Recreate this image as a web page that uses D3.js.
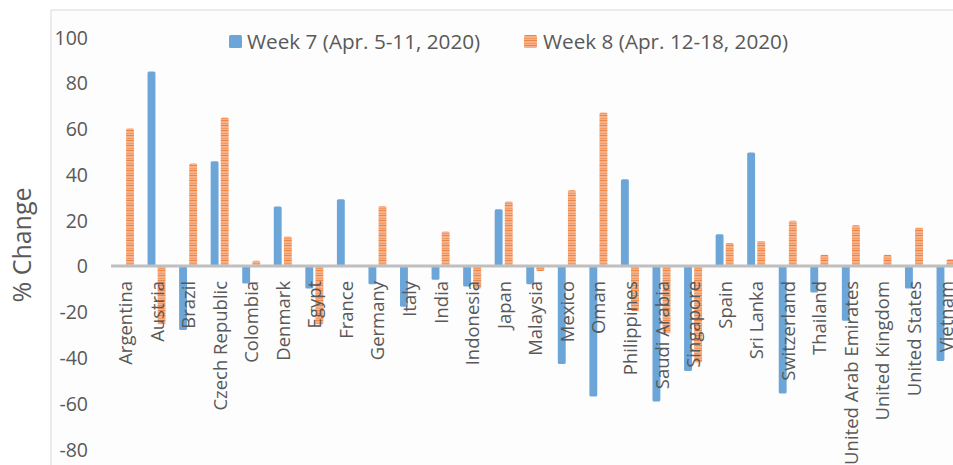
<!DOCTYPE html>
<html>
<head>
<meta charset="utf-8">
<script src="https://cdn.jsdelivr.net/npm/d3@7"></script>
<style>
  html, body { margin: 0; padding: 0; background: #ffffff; }
  svg { display: block; }
  text { font-family: "Open Sans", "DejaVu Sans", sans-serif; fill: #595959; }
</style>
</head>
<body>
<svg id="chart" width="953" height="465"></svg>
<script>
const categories = ["Argentina", "Austria", "Brazil", "Czech Republic", "Colombia", "Denmark", "Egypt", "France", "Germany", "Italy", "India", "Indonesia", "Japan", "Malaysia", "Mexico", "Oman", "Philippines", "Saudi Arabia", "Singapore", "Spain", "Sri Lanka", "Switzerland", "Thailand", "United Arab Emirates", "United Kingdom", "United States", "Vietnam"];
const seriesNames = ["Week 7 (Apr. 5-11, 2020)", "Week 8 (Apr. 12-18, 2020)"];
const week7 = [0, 84.9, -28, 45.7, -7.7, 26, -9.9, 29.1, -8, -17.8, -6.1, -9, 24.7, -8, -42.9, -57.1, 37.8, -59.2, -45.9, 13.8, 49.5, -55.7, -11.6, -24, 0, -9.9, -41.5];
const week8 = [60, -25.5, 44.7, 64.8, 2.2, 12.8, -25.5, 0, 26.2, 0, 15, -9.9, 28.1, -2.2, 33, 67, -19.7, -29.4, -42.2, 10, 10.9, 19.7, 4.9, 17.8, 4.9, 16.7, 2.9];
const yTicks = [-80, -60, -40, -20, 0, 20, 40, 60, 80, 100];
const yTitle = "% Change";

const svg = d3.select("#chart");
const W = 953, H = 465;

const defs = svg.append("defs");
const po = defs.append("pattern").attr("id", "orangeStripe")
  .attr("patternUnits", "userSpaceOnUse").attr("width", 10).attr("height", 5);
po.append("rect").attr("width", 10).attr("height", 5).attr("fill", "#F6B08A");
po.append("rect").attr("y", 0).attr("width", 10).attr("height", 1).attr("fill", "#EF8443");
po.append("rect").attr("y", 3).attr("width", 10).attr("height", 1).attr("fill", "#F39A63");

svg.append("rect").attr("x", 0).attr("y", 0).attr("width", W).attr("height", H).attr("fill", "#ffffff");
svg.append("rect").attr("x", 51).attr("y", 10).attr("width", W).attr("height", H)
  .attr("fill", "#FDFDFD").attr("stroke", "#D9D9D9").attr("stroke-width", 1);

const x = d3.scaleBand().domain(categories).range([109.2, 109.2 + 27 * 31.56]).padding(0);
const x1 = d3.scaleBand().domain(seriesNames)
  .range([x.bandwidth() / 2 - 9, x.bandwidth() / 2 + 9]).paddingInner(0.22);
const y = d3.scaleLinear().domain([-80, 100]).range([449, 37]);

const yAxis = d3.axisLeft(y).tickValues(yTicks).tickSize(0).tickPadding(0)
  .tickFormat(d => String(d));
const ya = svg.append("g").attr("transform", "translate(88,0)").call(yAxis);
ya.select(".domain").remove();
ya.selectAll("text").style("font-size", "19.5px").attr("fill", "#595959")
  .attr("dy", "0.36em");

svg.append("text").attr("transform", "translate(31,245) rotate(-90)")
  .attr("text-anchor", "middle").style("font-size", "25px").attr("fill", "#404040")
  .text(yTitle);

const colors = { [seriesNames[0]]: "#6CA6D9", [seriesNames[1]]: "url(#orangeStripe)" };
const data = [];
categories.forEach((c, i) => {
  data.push({ c, s: seriesNames[0], v: week7[i] });
  data.push({ c, s: seriesNames[1], v: week8[i] });
});
svg.append("g").selectAll("rect").data(data.filter(d => d.v !== 0)).join("rect")
  .attr("x", d => x(d.c) + x1(d.s))
  .attr("width", x1.bandwidth())
  .attr("y", d => Math.min(y(d.v), y(0)))
  .attr("height", d => Math.abs(y(d.v) - y(0)))
  .attr("rx", 1.5)
  .attr("fill", d => colors[d.s]);

svg.append("line").attr("x1", 111).attr("x2", W).attr("y1", y(0)).attr("y2", y(0))
  .attr("stroke", "#BFBFBF").attr("stroke-width", 3);

const xAxis = d3.axisBottom(x).tickSize(0).tickPadding(0);
const xa = svg.append("g").attr("transform", `translate(0,${y(0)})`).call(xAxis);
xa.select(".domain").remove();
xa.selectAll("text")
  .attr("transform", "rotate(-90)")
  .attr("text-anchor", "end")
  .attr("x", -15).attr("y", 7).attr("dy", 0)
  .style("font-size", "18.5px").attr("fill", "#595959");

const legend = svg.append("g");
const legItems = [
  { name: seriesNames[0], sx: 229, tx: 247, fill: colors[seriesNames[0]] },
  { name: seriesNames[1], sx: 524, tx: 543, fill: colors[seriesNames[1]] }
];
legItems.forEach(it => {
  legend.append("rect").attr("x", it.sx).attr("y", 35).attr("width", 13).attr("height", 13)
    .attr("rx", 1.5).attr("fill", it.fill);
  legend.append("text").attr("x", it.tx).attr("y", 48.5).style("font-size", "20.7px")
    .attr("fill", "#595959").text(it.name);
});
</script>
</body>
</html>
